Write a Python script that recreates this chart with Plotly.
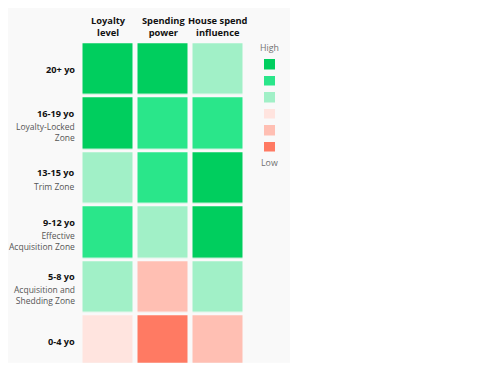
import plotly.graph_objects as go

# ---- data ----
age_groups = ["20+ yo", "16-19 yo", "13-15 yo", "9-12 yo", "5-8 yo", "0-4 yo"]
zone_lines = [[], ["Loyalty-Locked", "Zone"], ["Trim Zone"], ["Effective", "Acquisition Zone"],
              ["Acquisition and", "Shedding Zone"], []]
metric_lines = [["Loyalty", "level"], ["Spending", "power"], ["House spend", "influence"]]
loyalty_level = [6, 6, 4, 5, 4, 3]
spending_power = [6, 5, 5, 4, 2, 1]
house_influence = [4, 5, 6, 6, 4, 2]
legend_levels = [6, 5, 4, 3, 2, 1]
legend_labels = ["High", "Low"]

# ---- style ----
level_colors = ["#FF7A63", "#FFBFB3", "#FFE4DF", "#A1F0C7", "#2AE68A", "#00CE5E"]  # 1..6
VW, VH = 477, 379          # browser viewport
OFF = 8                    # default page body margin
W, H = VW - OFF, VH - OFF  # figure size
FONT = "Open Sans"

cs = []
for i, c in enumerate(level_colors):
    cs.append([i / 6, c])
    cs.append([(i + 1) / 6, c])

z = [[loyalty_level[r], spending_power[r], house_influence[r]] for r in range(len(age_groups))]

fig = go.Figure()
fig.add_trace(go.Heatmap(
    z=z, x=list(range(3)), y=list(range(len(age_groups))),
    zmin=0.5, zmax=6.5, colorscale=cs, showscale=False,
    xgap=5, ygap=3.5, hoverinfo="skip", xaxis="x", yaxis="y"))

fig.add_trace(go.Heatmap(
    z=[[v] for v in legend_levels], x=[0], y=list(range(len(legend_levels))),
    zmin=0.5, zmax=6.5, colorscale=cs, showscale=False,
    ygap=6.5, hoverinfo="skip", xaxis="x2", yaxis="y2"))

def px(p):
    return (p - OFF) / W

def py(p):
    return (H - (p - OFF)) / H

annotations = []
# column headers
for ci, lines in enumerate(metric_lines):
    annotations.append(dict(x=ci, xref="x", y=py(26.6), yref="paper",
                            text="<b>" + "<br>".join(lines) + "</b>", showarrow=False,
                            xanchor="center", yanchor="middle", align="center",
                            font=dict(family=FONT, size=9.3, color="#111")))
# row labels
for ri, name in enumerate(age_groups):
    subs = zone_lines[ri]
    if len(subs) == 2:
        t_off, s_off = -10.5, 8.4
    elif len(subs) == 1:
        t_off, s_off = -5.5, 7.9
    else:
        t_off, s_off = 0.5, 0
    annotations.append(dict(x=px(77), xref="paper", y=ri, yref="y", yshift=-t_off,
                            text="<b>%s</b>" % name, showarrow=False, xanchor="right", yanchor="middle",
                            font=dict(family=FONT, size=9.2, color="#111")))
    if subs:
        annotations.append(dict(x=px(77), xref="paper", y=ri, yref="y", yshift=-s_off,
                                text="<br>".join(subs), showarrow=False, xanchor="right",
                                yanchor="middle", align="right",
                                font=dict(family=FONT, size=8.5, color="#555")))
# legend labels
for t, yp in zip(legend_labels, [48, 163]):
    annotations.append(dict(x=px(269.5), xref="paper", y=py(yp), yref="paper", text=t,
                            showarrow=False, xanchor="center", yanchor="middle",
                            font=dict(family=FONT, size=8.8, color="#707070")))

top_row, pitch = 42.25, 54.4
bottom_clip = 362.7
y_bottom = len(age_groups) - 0.5 - (top_row + len(age_groups) * pitch - bottom_clip) / pitch

fig.update_layout(
    width=W, height=H, margin=dict(l=0, r=0, t=0, b=0),
    paper_bgcolor="white", plot_bgcolor="white",
    xaxis=dict(domain=[px(80.5), px(245.5)], range=[-0.5, 2.5], visible=False, fixedrange=True),
    yaxis=dict(domain=[py(bottom_clip), py(top_row)], range=[y_bottom, -0.5], visible=False, fixedrange=True),
    xaxis2=dict(domain=[px(264), px(275)], range=[-0.5, 0.5], visible=False, anchor="y2"),
    yaxis2=dict(domain=[py(155.4), py(56)], range=[5.5, -0.5], visible=False, anchor="x2"),
    annotations=annotations,
    shapes=[dict(type="rect", xref="paper", yref="paper", x0=0, x1=px(290), y0=py(bottom_clip), y1=1,
                 fillcolor="#f9f9f9", line=dict(width=0), layer="below")],
)

fig.write_html("out.html")
